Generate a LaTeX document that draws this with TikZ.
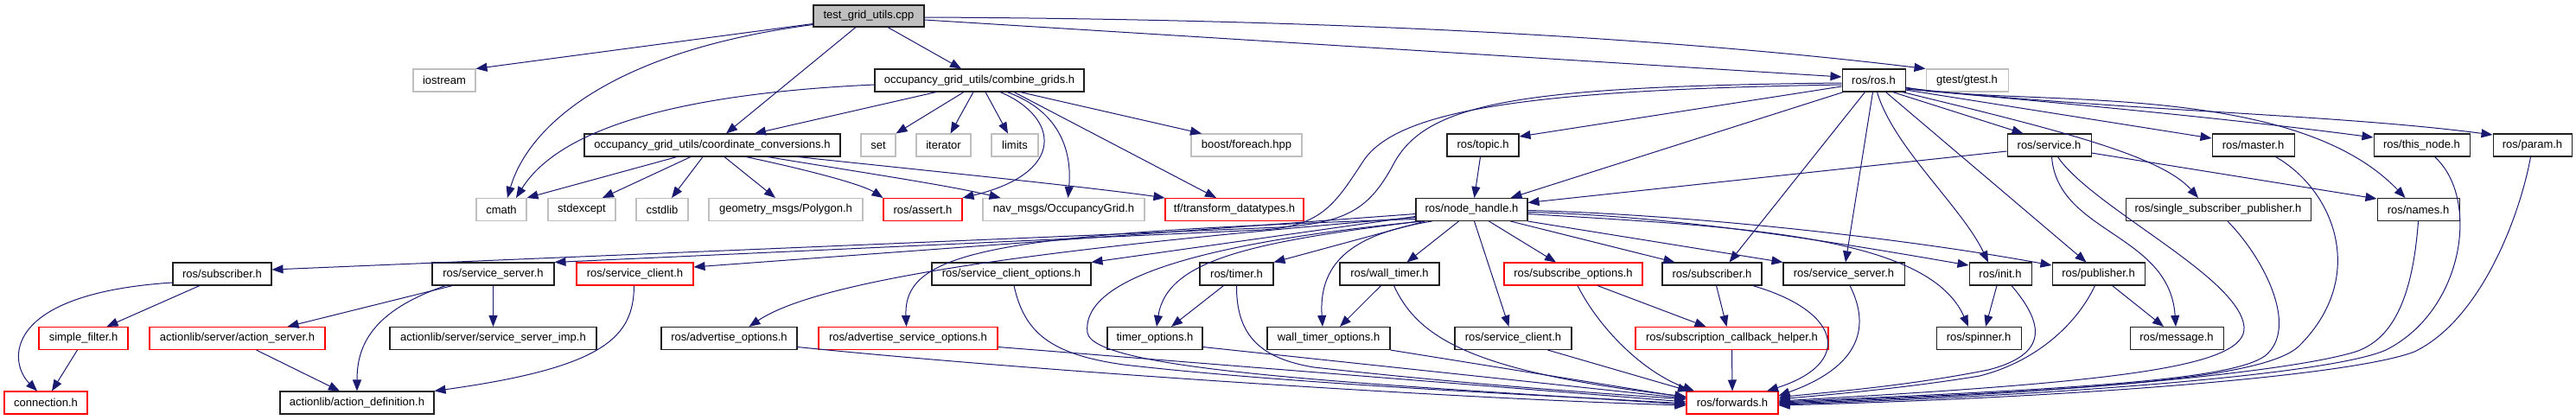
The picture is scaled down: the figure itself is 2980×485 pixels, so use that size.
\documentclass[tikz,border=0pt]{standalone}
\usepackage{fontspec}
\setmainfont{Liberation Sans}
\usetikzlibrary{arrows.meta}
\definecolor{edgec}{HTML}{191970}
\definecolor{grayb}{HTML}{BFBFBF}
\definecolor{redb}{HTML}{FF0000}
\definecolor{darkb}{HTML}{202020}
\newcommand\nodefont{\fontsize{13}{15}\selectfont}
\begin{document}
\begin{tikzpicture}[x=1pt,y=-1pt,
 ndbox/.style={draw=darkb,line width=1.05pt,minimum height=26pt,inner sep=0pt,font=\nodefont},
 grbox/.style={ndbox,draw=grayb},
 rdbox/.style={ndbox,draw=redb},
 edg/.style={draw=edgec,line width=1pt,-{Triangle[length=13pt,width=10pt]}}]
\useasboundingbox (0,0) rectangle (2980,485);
% row 0
\node[ndbox,fill=grayb,minimum width=128pt,minimum height=25pt] (T) at (1005,18.5) {test\_grid\_utils.cpp};
% row 1
\node[grbox,minimum width=72pt] (iostream) at (514,93) {iostream};
\node[ndbox,minimum width=242pt] (CG) at (1133,93) {occupancy\_grid\_utils/combine\_grids.h};
\node[ndbox,minimum width=73pt] (R) at (2167.5,93) {ros/ros.h};
\node[grbox,minimum width=95pt] (gtest) at (2275.5,93) {gtest/gtest.h};
% row 2
\node[ndbox,minimum width=296pt] (CC) at (824,168) {occupancy\_grid\_utils/coordinate\_conversions.h};
\node[grbox,minimum width=40pt] (set) at (1016,168) {set};
\node[grbox,minimum width=63pt] (iter) at (1091.5,168) {iterator};
\node[grbox,minimum width=54pt] (limits) at (1174,168) {limits};
\node[grbox,minimum width=128pt] (boost) at (1442,168) {boost/foreach.hpp};
\node[ndbox,minimum width=83pt] (topic) at (1715.5,168) {ros/topic.h};
\node[ndbox,minimum width=97pt] (service) at (2370.5,168) {ros/service.h};
\node[ndbox,minimum width=95pt] (master) at (2606.5,168) {ros/master.h};
\node[ndbox,minimum width=111pt] (thisnode) at (2801.5,168) {ros/this\_node.h};
\node[ndbox,minimum width=91pt] (param) at (2929.5,168) {ros/param.h};
% row 3
\node[grbox,minimum width=58pt] (cmath) at (580,242.5) {cmath};
\node[grbox,minimum width=78pt] (stdexcept) at (673,242.5) {stdexcept};
\node[grbox,minimum width=60pt] (cstdlib) at (766,242.5) {cstdlib};
\node[grbox,minimum width=178pt] (polygon) at (909,242.5) {geometry\_msgs/Polygon.h};
\node[rdbox,minimum width=91pt] (assert) at (1067.5,242.5) {ros/assert.h};
\node[grbox,minimum width=187pt] (nav) at (1230.5,242.5) {nav\_msgs/OccupancyGrid.h};
\node[rdbox,minimum width=160pt] (tf) at (1428,242.5) {tf/transform\_datatypes.h};
\node[ndbox,minimum width=129pt] (NH) at (1702.5,242.5) {ros/node\_handle.h};
\node[ndbox,minimum width=214pt] (ssp) at (2566,242.5) {ros/single\_subscriber\_publisher.h};
\node[ndbox,minimum width=95pt] (names) at (2797.5,242.5) {ros/names.h};
% row 4
\node[ndbox,minimum width=114pt] (subL) at (257,317) {ros/subscriber.h};
\node[ndbox,minimum width=141pt] (ssL) at (570.5,317) {ros/service\_server.h};
\node[rdbox,minimum width=135pt] (scred) at (734.5,317) {ros/service\_client.h};
\node[ndbox,minimum width=184pt] (sco) at (1170,317) {ros/service\_client\_options.h};
\node[ndbox,minimum width=85pt] (timer) at (1430.5,317) {ros/timer.h};
\node[ndbox,minimum width=115pt] (wtimer) at (1607.5,317) {ros/wall\_timer.h};
\node[rdbox,minimum width=160pt] (subopts) at (1820,317) {ros/subscribe\_options.h};
\node[ndbox,minimum width=115pt] (subR) at (1980.5,317) {ros/subscriber.h};
\node[ndbox,minimum width=140pt] (ssR) at (2133,317) {ros/service\_server.h};
\node[ndbox,minimum width=72pt] (init) at (2314,317) {ros/init.h};
\node[ndbox,minimum width=107pt] (pub) at (2427.5,317) {ros/publisher.h};
% row 5
\node[rdbox,minimum width=103pt] (sfilter) at (96.5,391.5) {simple\_filter.h};
\node[rdbox,minimum width=203pt] (aserver) at (274.5,391.5) {actionlib/server/action\_server.h};
\node[ndbox,minimum width=239pt] (ssimp) at (570.5,391.5) {actionlib/server/service\_server\_imp.h};
\node[ndbox,minimum width=157pt] (advopts) at (843.5,391.5) {ros/advertise\_options.h};
\node[rdbox,minimum width=207pt] (advsrv) at (1050.5,391.5) {ros/advertise\_service\_options.h};
\node[ndbox,minimum width=110pt] (topts) at (1336,391.5) {timer\_options.h};
\node[ndbox,minimum width=142pt] (wto) at (1537,391.5) {wall\_timer\_options.h};
\node[ndbox,minimum width=135pt] (scR) at (1750.5,391.5) {ros/service\_client.h};
\node[rdbox,minimum width=223pt] (scb) at (2003.5,391.5) {ros/subscription\_callback\_helper.h};
\node[ndbox,minimum width=98pt] (spinner) at (2289,391.5) {ros/spinner.h};
\node[ndbox,minimum width=108pt] (message) at (2518,391.5) {ros/message.h};
% row 6
\node[rdbox,minimum width=96pt] (connection) at (53,466) {connection.h};
\node[ndbox,minimum width=178pt] (adef) at (413,466) {actionlib/action\_definition.h};
\node[rdbox,minimum width=106pt] (fwd) at (2004,466) {ros/forwards.h};
% edges from test file
\draw[edg] ([yshift=-9pt]T.west) -- (iostream.north east);
\draw[edg] ([yshift=-10pt]T.west) .. controls (700,60) and (610,150) .. ([xshift=7pt]cmath.north);
\draw[edg] ([xshift=-15pt]T.south) -- ([xshift=16pt]CC.north);
\draw[edg] ([xshift=22pt]T.south) -- ([xshift=-21pt]CG.north);
\draw[edg] ([yshift=-4.5pt]T.east) -- ([yshift=4pt]R.west);
\draw[edg] ([yshift=-1.5pt]T.east) .. controls (1500,22) and (1900,40) .. (gtest.north west);
% combine_grids
\draw[edg] ([yshift=-5pt]CG.west) .. controls (750,110) and (640,160) .. ([xshift=17pt]cmath.north);
\draw[edg] ([xshift=-50pt]CG.south) -- ([xshift=49pt]CC.north);
\draw[edg] ([xshift=-18pt]CG.south) -- (set.north east);
\draw[edg] ([xshift=-7pt]CG.south) -- ([xshift=8pt]iter.north);
\draw[edg] ([xshift=7pt]CG.south) -- ([xshift=-8pt]limits.north);
\draw[edg] ([xshift=24pt]CG.south) .. controls (1225,135) and (1235,200) .. (assert.north east);
\draw[edg] ([xshift=32pt]CG.south) .. controls (1230,130) and (1240,180) .. ([xshift=5pt]nav.north);
\draw[edg] ([xshift=40pt]CG.south) -- ([xshift=-21pt]tf.north);
\draw[edg] ([xshift=47pt]CG.south) -- ([xshift=-52pt]boost.north);
% coordinate_conversions
\draw[edg] ([xshift=-41pt]CC.south) -- (cmath.north east);
\draw[edg] ([xshift=-25pt]CC.south) -- ([xshift=24pt]stdexcept.north);
\draw[edg] ([xshift=-11pt]CC.south) -- ([xshift=11pt]cstdlib.north);
\draw[edg] ([xshift=14pt]CC.south) -- ([xshift=-12pt]polygon.north);
\draw[edg] ([xshift=39pt]CC.south) .. controls (950,200) and (1000,215) .. (assert.north west);
\draw[edg] ([xshift=64pt]CC.south) .. controls (1000,200) and (1100,215) .. ([xshift=-73pt]nav.north);
\draw[edg] ([xshift=99pt]CC.south) .. controls (1000,190) and (1250,215) .. (tf.north west);
% ros.h
\draw[edg] ([yshift=-7pt]R.west) -- ([yshift=10pt]topic.east);
\draw[edg] ([xshift=-35pt]R.south) -- ([xshift=45pt]NH.north);
\draw[edg] ([xshift=22pt]R.south) -- ([xshift=-30pt]service.north);
\draw[edg] ([yshift=-11pt]R.east) -- ([yshift=8pt]master.west);
\draw[edg] ([yshift=-10pt]R.east) .. controls (2450,125) and (2600,140) .. ([yshift=9pt]thisnode.west);
\draw[edg] ([yshift=-9pt]R.east) .. controls (2450,128) and (2700,132) .. ([yshift=12pt]param.west);
\draw[edg] ([yshift=-8pt]R.east) .. controls (2330,125) and (2650,90) .. ([xshift=-15pt]names.north);
\draw[edg] ([xshift=-4pt]R.south east) .. controls (2380,150) and (2500,180) .. ([xshift=-23pt]ssp.north);
\draw[edg] ([xshift=14pt]R.south) -- ([xshift=-14pt]pub.north);
\draw[edg] ([xshift=4pt]R.south) .. controls (2190,170) and (2270,240) .. ([xshift=-14pt]init.north);
\draw[edg] ([xshift=-1pt]R.south) -- ([xshift=2pt]ssR.north);
\draw[edg] ([xshift=-10pt]R.south) -- ([xshift=20pt]subR.north);
\draw[edg] ([yshift=-3pt]R.west) .. controls (1760,100) and (1650,118) .. (1612,190) .. controls (1585,240) and (1560,258) .. (1480,263) -- ([yshift=5pt]subL.east);
\draw[edg] ([yshift=-5pt]R.west) .. controls (1780,104) and (1620,125) .. (1578,185) .. controls (1545,235) and (1530,262) .. (1460,266) -- (ssL.north east);
% service.h
\draw[edg] ([yshift=-7pt]service.west) -- ([yshift=8pt]NH.east);
\draw[edg] ([yshift=-9pt]service.east) -- ([yshift=12.5pt]names.west);
\draw[edg] ([xshift=3pt]service.south) .. controls (2380,270) and (2510,270) .. ([xshift=-1pt]message.north);
\draw[edg] ([xshift=10pt]service.south) .. controls (2420,240) and (2590,320) .. (2596,378) .. controls (2600,425) and (2450,442) .. ([yshift=2pt]fwd.east);
% topic
\draw[edg] ([xshift=-3pt]topic.south) -- ([xshift=3pt]NH.north);
% node_handle
\draw[edg] ([yshift=-5pt]NH.west) -- ([yshift=8pt]scred.east);
\draw[edg] ([yshift=-8pt]NH.west) -- (sco.north east);
\draw[edg] ([yshift=-9pt]NH.west) .. controls (1300,280) and (960,315) .. ([xshift=23pt]advopts.north);
\draw[edg] ([yshift=-11pt]NH.west) .. controls (1150,270) and (1045,290) .. ([xshift=-2pt]advsrv.north);
\draw[edg] ([xshift=5pt]NH.south west) .. controls (1450,280) and (1350,300) .. ([xshift=2pt]topts.north);
\draw[edg] ([xshift=8pt]NH.south west) .. controls (1400,280) and (1250,320) .. (1258,385) .. controls (1265,430) and (1600,445) .. ([yshift=-2pt]fwd.west);
\draw[edg] ([xshift=11pt]NH.south west) -- (timer.north east);
\draw[edg] ([xshift=19pt]NH.south west) .. controls (1570,270) and (1525,300) .. ([xshift=-7pt]wto.north);
\draw[edg] ([xshift=-15pt]NH.south) -- ([xshift=20pt]wtimer.north);
\draw[edg] ([xshift=3pt]NH.south) -- ([xshift=-5pt]scR.north);
\draw[edg] ([xshift=20pt]NH.south) -- ([xshift=-20pt]subopts.north);
\draw[edg] ([xshift=45pt]NH.south) -- ([xshift=-43pt]subR.north);
\draw[edg] (NH.south east) -- (ssR.north west);
\draw[edg] ([yshift=-3pt]NH.east) .. controls (1950,250) and (2150,285) .. ([yshift=10pt]init.west);
\draw[edg] ([yshift=-1pt]NH.east) .. controls (1950,248) and (2200,275) .. ([yshift=10pt]pub.west);
\draw[edg] ([yshift=-5pt]NH.east) .. controls (2000,262) and (2230,270) .. ([xshift=-12pt]spinner.north);
% lower right
\draw[edg] ([xshift=5pt]subR.south) -- ([xshift=-6pt]scb.north);
\draw[edg] ([xshift=28pt]subopts.south) -- ([xshift=-30pt]scb.north);
\draw[edg] ([xshift=5pt]subopts.south) .. controls (1850,380) and (1900,430) .. ([xshift=-44pt]fwd.north);
\draw[edg] (scb.south) -- (fwd.north);
\draw[edg] ([xshift=47pt]subR.south) .. controls (2130,360) and (2145,420) .. ([xshift=40pt]fwd.north);
\draw[edg] ([xshift=7pt]ssR.south) .. controls (2165,380) and (2150,425) .. ([yshift=8pt]fwd.east);
\draw[edg] ([xshift=-4pt]init.south) -- ([xshift=8pt]spinner.north);
\draw[edg] ([xshift=13pt]init.south) .. controls (2365,375) and (2370,410) .. (2300,428) .. controls (2200,448) and (2100,455) .. ([yshift=6pt]fwd.east);
\draw[edg] ([xshift=-4pt]pub.south) .. controls (2400,380) and (2350,420) .. (2290,435) .. controls (2200,450) and (2100,458) .. ([yshift=4pt]fwd.east);
\draw[edg] ([xshift=16pt]pub.south) -- ([xshift=-15pt]message.north);
\draw[edg] ([xshift=11pt]ssp.south) .. controls (2620,300) and (2660,380) .. (2620,412) .. controls (2580,440) and (2400,450) .. ([yshift=1pt]fwd.east);
\draw[edg] ([xshift=26pt]master.south) .. controls (2700,220) and (2740,320) .. (2660,400) .. controls (2620,440) and (2400,452) .. (fwd.east);
\draw[edg] (names.south) .. controls (2790,360) and (2760,395) .. (2725,407) .. controls (2650,430) and (2400,455) .. ([yshift=-1pt]fwd.east);
\draw[edg] ([xshift=15pt]thisnode.south) .. controls (2870,230) and (2850,360) .. (2760,405) .. controls (2700,432) and (2400,457) .. ([yshift=-2pt]fwd.east);
\draw[edg] ([xshift=-2pt]param.south) .. controls (2915,250) and (2870,370) .. (2793,407) .. controls (2720,435) and (2400,460) .. ([yshift=-3pt]fwd.east);
% lower middle
\draw[edg] ([xshift=-15pt]timer.south) -- ([xshift=19pt]topts.north);
\draw[edg] (timer.south) .. controls (1430,390) and (1460,415) .. (1520,425) .. controls (1700,445) and (1850,455) .. ([yshift=4pt]fwd.west);
\draw[edg] ([yshift=-10pt]topts.east) -- ([yshift=5pt]fwd.west);
\draw[edg] (wto.south east) -- ([yshift=6pt]fwd.west);
\draw[edg] ([xshift=-10pt]wtimer.south) -- ([xshift=13pt]wto.north);
\draw[edg] ([xshift=5pt]wtimer.south) .. controls (1640,390) and (1700,430) .. ([yshift=7pt]fwd.west);
\draw[edg] ([xshift=40pt]scR.south) -- ([xshift=-50pt]fwd.north);
\draw[edg] ([xshift=3pt]sco.south) .. controls (1185,385) and (1215,410) .. (1300,422) .. controls (1500,445) and (1800,458) .. ([yshift=-1pt]fwd.west);
\draw[edg] ([yshift=-10pt]advsrv.east) -- ([yshift=1pt]fwd.west);
\draw[edg] ([yshift=-10pt]advopts.east) .. controls (1200,430) and (1700,462) .. ([yshift=-3pt]fwd.west);
% left
\draw[edg] ([yshift=-10pt]subL.west) .. controls (0,340) and (10,420) .. ([xshift=-10pt]connection.north);
\draw[edg] ([xshift=-26pt]subL.south) -- ([xshift=27pt]sfilter.north);
\draw[edg] ([xshift=-7pt]sfilter.south) -- ([xshift=7pt]connection.north);
\draw[edg] ([xshift=-47pt]ssL.south) -- ([xshift=58pt]aserver.north);
\draw[edg] ([xshift=-55pt]ssL.south) .. controls (430,360) and (413,400) .. (adef.north);
\draw[edg] (ssL.south) -- (ssimp.north);
\draw[edg] ([xshift=22pt]aserver.south) -- ([xshift=-20pt]adef.north);
\draw[edg] ([xshift=-1pt]scred.south) .. controls (733,390) and (700,425) .. (adef.north east);
\end{tikzpicture}
\end{document}
